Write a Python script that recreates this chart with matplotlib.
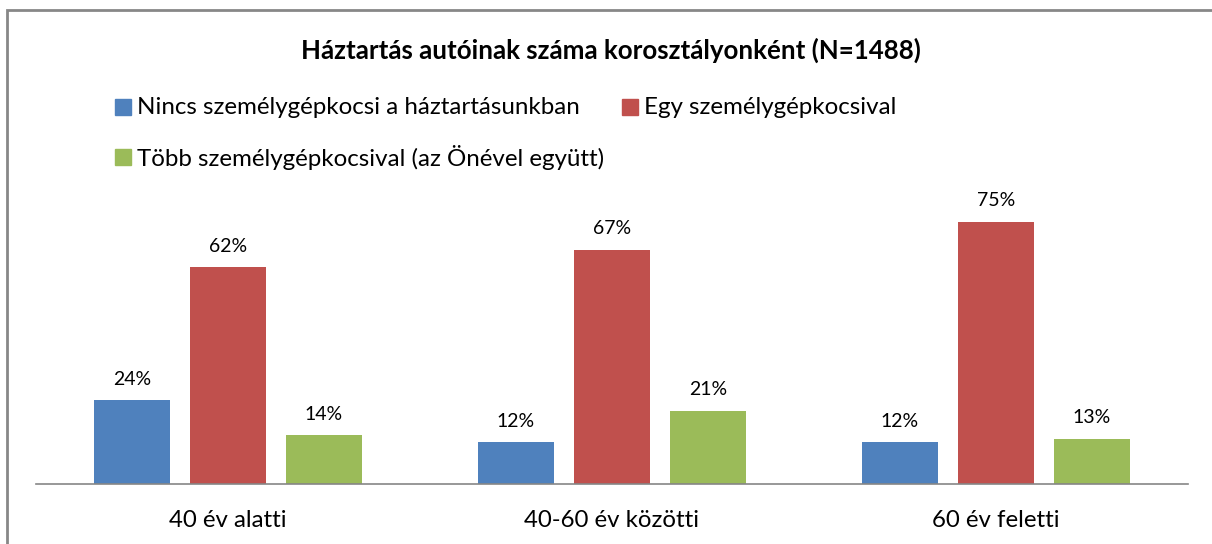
import matplotlib
matplotlib.use("Agg")
import matplotlib.pyplot as plt
from matplotlib.patches import Rectangle

categories = ["40 év alatti", "40-60 év közötti", "60 év feletti"]
series_names = ["Nincs személygépkocsi a háztartásunkban",
                "Egy személygépkocsival",
                "Több személygépkocsival (az Önével együtt)"]
nincs = [24, 12, 12]
egy = [62, 67, 75]
tobb = [14, 21, 13]
title = "Háztartás autóinak száma korosztályonként (N=1488)"

colors = ["#4F81BD", "#C0504D", "#9BBB59"]
plt.rcParams['font.family'] = ['Lato', 'DejaVu Sans']

W, H = 1212, 544
fig = plt.figure(figsize=(W / 100, H / 100), dpi=100)

def fx(px):
    return px / W

def fy(py):
    return 1 - py / H

# border (left and top visible)
fig.patches.append(Rectangle((fx(7), fy(560)), fx(1300), fy(10) - fy(560),
                             transform=fig.transFigure, fill=False,
                             edgecolor="#878787", linewidth=2))

ax = fig.add_axes([fx(36), fy(484), fx(1188) - fx(36), fy(204) - fy(484)])
ax.set_xlim(-0.5, 2.5)
ax.set_ylim(0, 80)

step = 0.25
width = 76 / 384
data = [nincs, egy, tobb]
for i, (vals, c) in enumerate(zip(data, colors)):
    xs = [k + (i - 1) * step for k in range(len(categories))]
    ax.bar(xs, vals, width=width, color=c, label=series_names[i])
    for x, v in zip(xs, vals):
        ax.annotate(f"{v}%", (x, v), xytext=(0, 15), textcoords="offset points",
                    ha="center", va="center", fontsize=14, color="#000000")

for s in ["top", "right", "left"]:
    ax.spines[s].set_visible(False)
ax.spines["bottom"].set_color("#868686")
ax.spines["bottom"].set_linewidth(1.2)
ax.set_yticks([])
ax.set_xticks(range(len(categories)))
ax.set_xticklabels(categories, fontsize=17.3)
ax.tick_params(axis="x", length=0, pad=19)

fig.text(fx(611), fy(50), title, ha="center", va="center",
         fontsize=18.6, fontweight="bold")

# legend
legend_items = [(115, 107, 0), (622, 107, 1), (115, 157, 2)]
for px, py, i in legend_items:
    fig.patches.append(Rectangle((fx(px), fy(py + 8)), fx(16), fy(py - 8) - fy(py + 8),
                                 transform=fig.transFigure, color=colors[i]))
    fig.text(fx(px + 22), fy(py), series_names[i], ha="left", va="center",
             fontsize=17.4)

fig.savefig("out.png", dpi=100)
